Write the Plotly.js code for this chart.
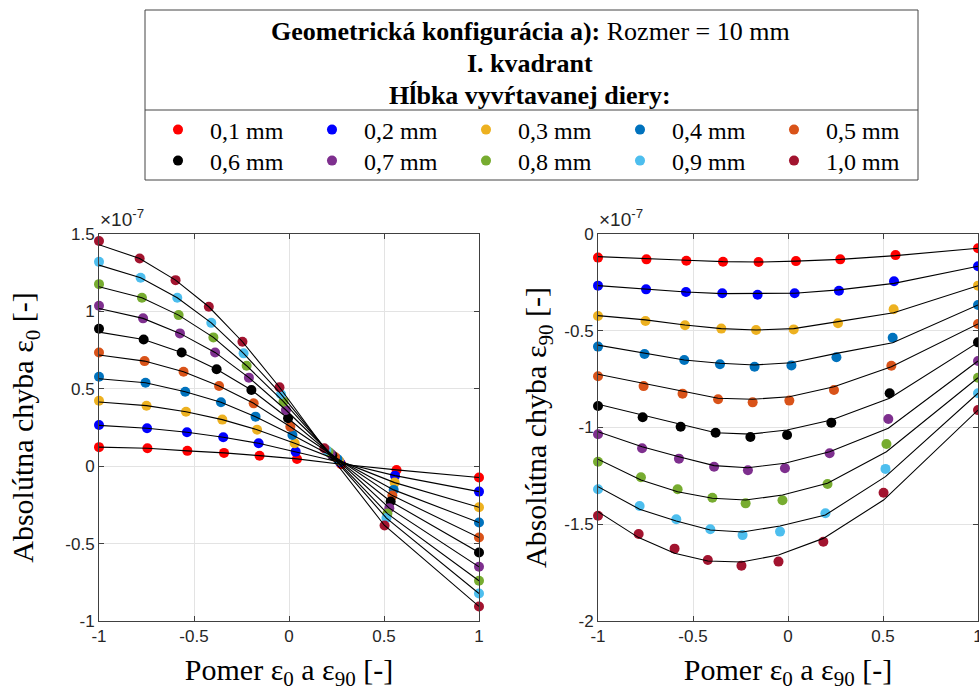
<!DOCTYPE html>
<html><head><meta charset="utf-8">
<script src="https://cdn.plot.ly/plotly-3.0.1.min.js"></script>
<style>html,body{margin:0;padding:0;background:#fff}#chart{width:979px;height:695px}</style>
</head><body><div id="chart"></div>
<script>
// ---- data (error values in units of 1e-7) ----
const depthLabels = ['0,1 mm','0,2 mm','0,3 mm','0,4 mm','0,5 mm','0,6 mm','0,7 mm','0,8 mm','0,9 mm','1,0 mm'];
const seriesColors = ['#FF0000','#0000FF','#EDB120','#0072BD','#D95319','#000000','#7E2F8E','#77AC30','#4DBEEE','#A2142F'];
const errorScale = 1e-7;

// ratio eps0/eps90 (x) per depth
const xRatio = [
  [-1, -0.745, -0.535, -0.342, -0.155,  0.042, 0.275, 0.566, 1],
  [-1, -0.747, -0.537, -0.346, -0.160,  0.035, 0.268, 0.558, 1],
  [-1, -0.750, -0.542, -0.351, -0.168,  0.030, 0.263, 0.556, 1],
  [-1, -0.755, -0.546, -0.358, -0.176,  0.018, 0.255, 0.551, 1],
  [-1, -0.760, -0.555, -0.368, -0.186,  0.007, 0.242, 0.544, 1],
  [-1, -0.765, -0.565, -0.381, -0.198, -0.005, 0.228, 0.535, 1],
  [-1, -0.768, -0.574, -0.389, -0.211, -0.016, 0.219, 0.528, 1],
  [-1, -0.774, -0.581, -0.398, -0.223, -0.029, 0.208, 0.518, 1],
  [-1, -0.781, -0.588, -0.409, -0.239, -0.042, 0.197, 0.513, 1],
  [-1, -0.786, -0.597, -0.422, -0.245, -0.050, 0.186, 0.503, 1]
];

// absolute error eps0 (measured points)
const eps0Error = [
  [0.123, 0.116, 0.099, 0.086, 0.068, 0.047, 0.013, -0.024, -0.073],
  [0.266, 0.245, 0.219, 0.187, 0.148, 0.094, 0.025, -0.061, -0.164],
  [0.423, 0.391, 0.352, 0.301, 0.236, 0.148, 0.036, -0.106, -0.265],
  [0.578, 0.539, 0.481, 0.413, 0.320, 0.202, 0.047, -0.153, -0.364],
  [0.735, 0.679, 0.610, 0.518, 0.406, 0.255, 0.059, -0.190, -0.461],
  [0.888, 0.819, 0.735, 0.626, 0.492, 0.310, 0.070, -0.228, -0.557],
  [1.036, 0.955, 0.858, 0.735, 0.572, 0.363, 0.082, -0.271, -0.650],
  [1.176, 1.088, 0.976, 0.832, 0.649, 0.417, 0.093, -0.306, -0.740],
  [1.320, 1.217, 1.088, 0.926, 0.729, 0.465, 0.105, -0.335, -0.822],
  [1.455, 1.342, 1.202, 1.030, 0.804, 0.510, 0.116, -0.383, -0.906]
];
// absolute error eps0 (fitted line)
const eps0Fit = [
  [0.123, 0.116, 0.099, 0.086, 0.068, 0.047, 0.013, -0.024, -0.073],
  [0.264, 0.245, 0.219, 0.187, 0.148, 0.094, 0.025, -0.061, -0.164],
  [0.415, 0.391, 0.352, 0.301, 0.236, 0.148, 0.036, -0.106, -0.265],
  [0.565, 0.539, 0.481, 0.413, 0.320, 0.202, 0.047, -0.153, -0.364],
  [0.718, 0.679, 0.610, 0.518, 0.406, 0.255, 0.059, -0.190, -0.461],
  [0.866, 0.819, 0.735, 0.626, 0.492, 0.310, 0.070, -0.228, -0.557],
  [1.019, 0.955, 0.858, 0.735, 0.572, 0.363, 0.082, -0.271, -0.650],
  [1.159, 1.088, 0.976, 0.832, 0.649, 0.417, 0.093, -0.306, -0.740],
  [1.299, 1.217, 1.088, 0.926, 0.729, 0.465, 0.105, -0.335, -0.822],
  [1.431, 1.342, 1.202, 1.030, 0.804, 0.510, 0.116, -0.383, -0.906]
];

// absolute error eps90 (measured points)
const eps90Error = [
  [-0.122, -0.131, -0.138, -0.143, -0.145, -0.140, -0.131, -0.109, -0.074],
  [-0.267, -0.286, -0.300, -0.306, -0.314, -0.306, -0.293, -0.244, -0.167],
  [-0.424, -0.450, -0.472, -0.489, -0.496, -0.493, -0.461, -0.389, -0.267],
  [-0.582, -0.620, -0.651, -0.673, -0.686, -0.679, -0.637, -0.536, -0.367],
  [-0.735, -0.786, -0.825, -0.854, -0.870, -0.861, -0.806, -0.681, -0.465],
  [-0.889, -0.947, -0.996, -1.027, -1.049, -1.039, -0.975, -0.823, -0.560],
  [-1.035, -1.107, -1.161, -1.203, -1.221, -1.211, -1.133, -0.956, -0.656],
  [-1.177, -1.257, -1.319, -1.363, -1.392, -1.376, -1.292, -1.085, -0.743],
  [-1.319, -1.406, -1.474, -1.526, -1.556, -1.538, -1.443, -1.214, -0.823],
  [-1.456, -1.550, -1.626, -1.685, -1.714, -1.693, -1.590, -1.337, -0.910]
];
// absolute error eps90 (fitted line)
const eps90Fit = [
  [-0.117, -0.129, -0.136, -0.143, -0.145, -0.140, -0.131, -0.112, -0.074],
  [-0.267, -0.286, -0.300, -0.308, -0.308, -0.306, -0.289, -0.255, -0.167],
  [-0.422, -0.444, -0.470, -0.489, -0.496, -0.489, -0.453, -0.407, -0.267],
  [-0.574, -0.617, -0.651, -0.668, -0.677, -0.665, -0.617, -0.562, -0.367],
  [-0.725, -0.772, -0.815, -0.849, -0.854, -0.841, -0.789, -0.686, -0.465],
  [-0.880, -0.935, -0.982, -1.027, -1.034, -1.013, -0.961, -0.849, -0.560],
  [-1.022, -1.099, -1.151, -1.197, -1.208, -1.185, -1.125, -1.004, -0.656],
  [-1.164, -1.271, -1.332, -1.366, -1.375, -1.349, -1.288, -1.125, -0.743],
  [-1.306, -1.423, -1.483, -1.530, -1.540, -1.509, -1.452, -1.254, -0.823],
  [-1.435, -1.569, -1.650, -1.690, -1.695, -1.659, -1.573, -1.375, -0.910]
];

const xTickVals = [-1, -0.5, 0, 0.5, 1];
const xTickText = ['-1', '-0.5', '0', '0.5', '1'];
const y0TickVals = [-1, -0.5, 0, 0.5, 1, 1.5];
const y0TickText = ['-1', '-0.5', '0', '0.5', '1', '1.5'];
const y90TickVals = [-2, -1.5, -1, -0.5, 0];
const y90TickText = ['-2', '-1.5', '-1', '-0.5', '0'];
const exponentLabel = '×10<sup>-7</sup>';
const headerLines = [
  '<b>Geometrická konfigurácia a):</b> Rozmer = 10 mm',
  '<b>I. kvadrant</b>',
  '<b>Hĺbka vyvŕtavanej diery:</b>'
];

// ---- build ----
const W = 979, H = 695;
const px = v => v / W;
const py = v => 1 - v / H;
const serif = 'Liberation Serif, Times New Roman, serif';
const sans = 'Liberation Sans, Arial, sans-serif';

const traces = [];
for (let i = 0; i < depthLabels.length; i++) {
  traces.push({
    type: 'scatter', mode: 'markers', x: xRatio[i], y: eps0Error[i], xaxis: 'x', yaxis: 'y',
    name: depthLabels[i], legendgroup: 'g' + i, legend: i < 5 ? 'legend' : 'legend2',
    marker: {color: seriesColors[i], size: 10}, cliponaxis: false
  });
}
for (let i = 0; i < depthLabels.length; i++) {
  traces.push({
    type: 'scatter', mode: 'markers', x: xRatio[i], y: eps90Error[i], xaxis: 'x2', yaxis: 'y2',
    name: depthLabels[i], legendgroup: 'g' + i, showlegend: false,
    marker: {color: seriesColors[i], size: 10}, cliponaxis: false
  });
}
for (let i = 0; i < depthLabels.length; i++) {
  traces.push({
    type: 'scatter', mode: 'lines', x: xRatio[i], y: eps0Fit[i], xaxis: 'x', yaxis: 'y',
    line: {color: '#000', width: 1.1}, showlegend: false, hoverinfo: 'skip', cliponaxis: false
  });
  traces.push({
    type: 'scatter', mode: 'lines', x: xRatio[i], y: eps90Fit[i], xaxis: 'x2', yaxis: 'y2',
    line: {color: '#000', width: 1.1}, showlegend: false, hoverinfo: 'skip', cliponaxis: false
  });
}

const axisCommon = {
  showline: true, mirror: 'ticks', linecolor: '#404040', linewidth: 1,
  ticks: 'inside', ticklen: 5, tickcolor: '#404040',
  showgrid: true, gridcolor: '#e3e3e3', gridwidth: 1, zeroline: false,
  tickfont: {family: sans, size: 17, color: '#262626'}, tickmode: 'array',
  ticklabeloverflow: 'allow'
};

const xTitle = {text: 'Pomer ε<sub>0</sub> a ε<sub>90</sub> [-]', font: {family: serif, size: 30, color: '#000'}, standoff: 13};

const legendCommon = {orientation: 'h', xanchor: 'left', yanchor: 'middle',
  itemwidth: 54, entrywidth: 85, entrywidthmode: 'pixels', bgcolor: 'rgba(0,0,0,0)', borderwidth: 0,
  font: {family: serif, size: 24, color: '#000'}, traceorder: 'normal'};

const annotations = headerLines.map((t, k) => ({
  xref: 'paper', yref: 'paper', x: px(530), y: py([32, 63, 95][k]), xanchor: 'center', yanchor: 'middle',
  showarrow: false, text: t, font: {family: serif, size: 26, color: '#000'}
}));
annotations.push(
  {xref: 'paper', yref: 'paper', x: px(98), y: py(232), xanchor: 'left', yanchor: 'bottom', showarrow: false,
    text: exponentLabel, font: {family: sans, size: 19, color: '#262626'}},
  {xref: 'paper', yref: 'paper', x: px(597), y: py(232), xanchor: 'left', yanchor: 'bottom', showarrow: false,
    text: exponentLabel, font: {family: sans, size: 19, color: '#262626'}}
);

const layout = {
  width: W, height: H,
  margin: {l: 0, r: 0, t: 0, b: 0},
  paper_bgcolor: '#fff', plot_bgcolor: '#fff',
  showlegend: true,
  xaxis: Object.assign({}, axisCommon, {domain: [px(99), px(479)], range: [-1, 1], tickvals: xTickVals, ticktext: xTickText, anchor: 'y', title: xTitle}),
  yaxis: Object.assign({}, axisCommon, {domain: [py(621), py(234)], range: [-1, 1.5], tickvals: y0TickVals, ticktext: y0TickText, anchor: 'x',
    title: {text: 'Absolútna chyba ε<sub>0</sub> [-]', font: {family: serif, size: 30, color: '#000'}, standoff: 22}}),
  xaxis2: Object.assign({}, axisCommon, {domain: [px(598), px(978)], range: [-1, 1], tickvals: xTickVals, ticktext: xTickText, anchor: 'y2', title: xTitle}),
  yaxis2: Object.assign({}, axisCommon, {domain: [py(621), py(234)], range: [-2, 0], tickvals: y90TickVals, ticktext: y90TickText, anchor: 'x2',
    title: {text: 'Absolútna chyba ε<sub>90</sub> [-]', font: {family: serif, size: 30, color: '#000'}, standoff: 8}}),
  legend: Object.assign({}, legendCommon, {x: px(146), y: py(130)}),
  legend2: Object.assign({}, legendCommon, {x: px(146), y: py(161)}),
  shapes: [
    {type: 'rect', xref: 'paper', yref: 'paper', x0: px(145), x1: px(918), y0: py(180), y1: py(10), line: {color: '#444', width: 1}},
    {type: 'line', xref: 'paper', yref: 'paper', x0: px(145), x1: px(918), y0: py(110), y1: py(110), line: {color: '#444', width: 1}}
  ],
  annotations: annotations
};

Plotly.newPlot('chart', traces, layout, {displayModeBar: false, staticPlot: true});
</script>
</body></html>
